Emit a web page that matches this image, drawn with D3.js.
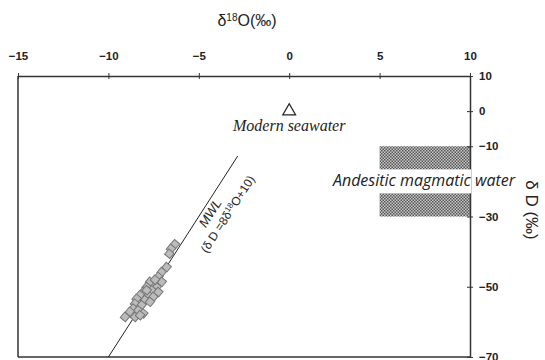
<!DOCTYPE html>
<html>
<head>
<meta charset="utf-8">
<script src="https://cdn.jsdelivr.net/npm/d3@7"></script>
<style>
  body { margin: 0; background: #fff; }
  svg { display: block; }
  .tick text { font-family: "Liberation Sans", Arial, sans-serif; font-size: 11.5px; font-weight: bold; fill: #222; }
</style>
</head>
<body>
<div id="chart"></div>
<script>
// samples: delta 18O and delta D (permil)
const d18O = [-6.32, -6.54, -6.63, -6.78, -7.05, -7.24, -7.05, -7.52, -7.70, -7.88,
  -7.33, -7.60, -8.07, -7.24, -8.25, -7.79, -7.52, -8.44, -7.98, -7.70,
  -8.53, -8.16, -8.62, -8.35, -8.81, -8.07, -9.08, -8.53, -8.25, -7.88, -7.42];
const dD = [-37.9, -39.2, -40.6, -44.4, -45.8, -47.2, -48.6, -49.1, -48.6, -50.1,
  -50.1, -51.0, -51.5, -51.5, -52.4, -52.4, -52.9, -53.4, -53.8, -54.3,
  -54.8, -55.2, -56.2, -56.7, -57.1, -57.6, -58.6, -58.6, -58.1, -51.0, -48.0];

const mwlX = [-10, -2.85];          // meteoric water line extent, dD = 8*d18O + 10
const seawater = [0, 0];
const andesiticX = [5, 10];
const andesiticY = [-10, -30];

const xTicks = [-15, -10, -5, 0, 5, 10];
const yTicks = [10, 0, -10, -30, -50, -70];

const width = 545, height = 360;
const margin = { top: 76, right: 75, bottom: 3, left: 18 };

const svg = d3.select("#chart").append("svg")
  .attr("width", width)
  .attr("height", height);

const x = d3.scaleLinear().domain([-15, 10]).range([margin.left, width - margin.right]);
const y = d3.scaleLinear().domain([-70, 10]).range([height - margin.bottom, margin.top]);

// hatch pattern
const defs = svg.append("defs");
const pat = defs.append("pattern")
  .attr("id", "hatch")
  .attr("patternUnits", "userSpaceOnUse")
  .attr("width", 3).attr("height", 3);
pat.append("rect").attr("width", 3).attr("height", 3).attr("fill", "#c8c8c8");
pat.append("rect").attr("x", 0).attr("y", 0).attr("width", 1.5).attr("height", 1.5).attr("fill", "#555");
pat.append("rect").attr("x", 1.5).attr("y", 1.5).attr("width", 1.5).attr("height", 1.5).attr("fill", "#555");

// andesitic magmatic water box
svg.append("rect")
  .attr("x", x(andesiticX[0]))
  .attr("y", y(andesiticY[0]))
  .attr("width", x(andesiticX[1]) - x(andesiticX[0]))
  .attr("height", y(andesiticY[1]) - y(andesiticY[0]))
  .attr("fill", "url(#hatch)");

// frame: left and bottom
svg.append("line")
  .attr("x1", x(-15)).attr("x2", x(-15))
  .attr("y1", y(10)).attr("y2", y(-70))
  .attr("stroke", "#333").attr("stroke-width", 1.5);
svg.append("line")
  .attr("x1", x(-15)).attr("x2", x(10))
  .attr("y1", y(-70)).attr("y2", y(-70))
  .attr("stroke", "#333").attr("stroke-width", 1.5);

// top axis
const xAxis = svg.append("g")
  .attr("transform", "translate(0," + y(10) + ")")
  .call(d3.axisTop(x).tickValues(xTicks).tickSize(3).tickPadding(13).tickSizeOuter(0));
xAxis.select(".domain").attr("stroke", "#333").attr("stroke-width", 1.5);
xAxis.selectAll(".tick line").attr("y2", -3).attr("y1", 3).attr("stroke", "#333");

// right axis
const yAxis = svg.append("g")
  .attr("transform", "translate(" + x(10) + ",0)")
  .call(d3.axisRight(y).tickValues(yTicks).tickSize(3).tickPadding(6).tickSizeOuter(0));
yAxis.select(".domain").attr("stroke", "#333").attr("stroke-width", 1.5);
yAxis.selectAll(".tick line").attr("x1", -3).attr("x2", 3).attr("stroke", "#333");

// MWL
svg.append("line")
  .attr("x1", x(mwlX[0])).attr("y1", y(8 * mwlX[0] + 10))
  .attr("x2", x(mwlX[1])).attr("y2", y(8 * mwlX[1] + 10))
  .attr("stroke", "#222").attr("stroke-width", 1);

// sample points (diamonds)
const sym = d3.symbol().type(d3.symbolSquare).size(46);
svg.append("g").selectAll("path")
  .data(d18O.map((v, i) => [v, dD[i]]))
  .enter().append("path")
  .attr("d", sym)
  .attr("transform", d => "translate(" + x(d[0]) + "," + y(d[1]) + ") rotate(40)")
  .attr("fill", "#bbbbbb")
  .attr("stroke", "#777")
  .attr("stroke-width", 1);

// modern seawater
svg.append("path")
  .attr("d", d3.symbol().type(d3.symbolTriangle).size(70))
  .attr("transform", "translate(" + x(seawater[0]) + "," + y(seawater[1]) + ")")
  .attr("fill", "none").attr("stroke", "#222").attr("stroke-width", 1.3);
svg.append("text")
  .attr("x", x(seawater[0])).attr("y", y(seawater[1]) + 20)
  .attr("text-anchor", "middle")
  .style("font-family", "'Liberation Serif', 'Times New Roman', serif")
  .style("font-style", "italic")
  .style("font-size", "16px")
  .attr("fill", "#222")
  .text("Modern seawater");

// andesitic label with white backing
const midY = (y(andesiticY[0]) + y(andesiticY[1])) / 2;
svg.append("rect")
  .attr("x", 330).attr("y", midY - 12)
  .attr("width", x(10) - 330 + 1).attr("height", 24)
  .attr("fill", "#fff");
svg.append("text")
  .attr("x", 424).attr("y", midY + 5)
  .attr("text-anchor", "middle")
  .style("font-family", "'Open Sans', 'Noto Sans', sans-serif")
  .style("font-style", "italic")
  .style("font-size", "16px")
  .attr("fill", "#222")
  .text("Andesitic magmatic water");

// MWL label
const ang = -Math.atan((y(-70) - y(-70 + 8)) / (x(1) - x(0))) * 180 / Math.PI;
svg.append("text")
  .attr("transform", "translate(" + x(-4.38) + "," + y(-29.0) + ") rotate(" + ang + ")")
  .attr("text-anchor", "middle")
  .attr("dy", "0.35em")
  .style("font-family", "'Liberation Sans', Arial, sans-serif")
  .style("font-style", "italic")
  .style("font-size", "13px")
  .attr("fill", "#222")
  .text("MWL");
const eq = svg.append("text")
  .attr("transform", "translate(" + x(-3.41) + "," + y(-29.3) + ") rotate(" + ang + ")")
  .attr("text-anchor", "middle")
  .attr("dy", "0.35em")
  .style("font-family", "'Liberation Sans', Arial, sans-serif")
  .style("font-size", "12px")
  .attr("fill", "#222");
eq.append("tspan").text("(\u03b4 D =8\u03b4");
eq.append("tspan").attr("baseline-shift", "super").style("font-size", "8px").text("18");
eq.append("tspan").text("O+10)");

// axis titles
const tt = svg.append("text")
  .attr("x", 247).attr("y", 26)
  .attr("text-anchor", "middle")
  .style("font-family", "'Liberation Sans', Arial, sans-serif")
  .style("font-size", "16px")
  .attr("fill", "#222");
tt.append("tspan").text("\u03b4");
tt.append("tspan").attr("baseline-shift", "super").style("font-size", "10px").text("18");
tt.append("tspan").text("O(\u2030)");

svg.append("text")
  .attr("transform", "translate(526,210) rotate(90)")
  .attr("text-anchor", "middle")
  .style("font-family", "'Liberation Sans', Arial, sans-serif")
  .style("font-size", "17px")
  .attr("fill", "#222")
  .text("\u03b4 D (\u2030)");
</script>
</body>
</html>
